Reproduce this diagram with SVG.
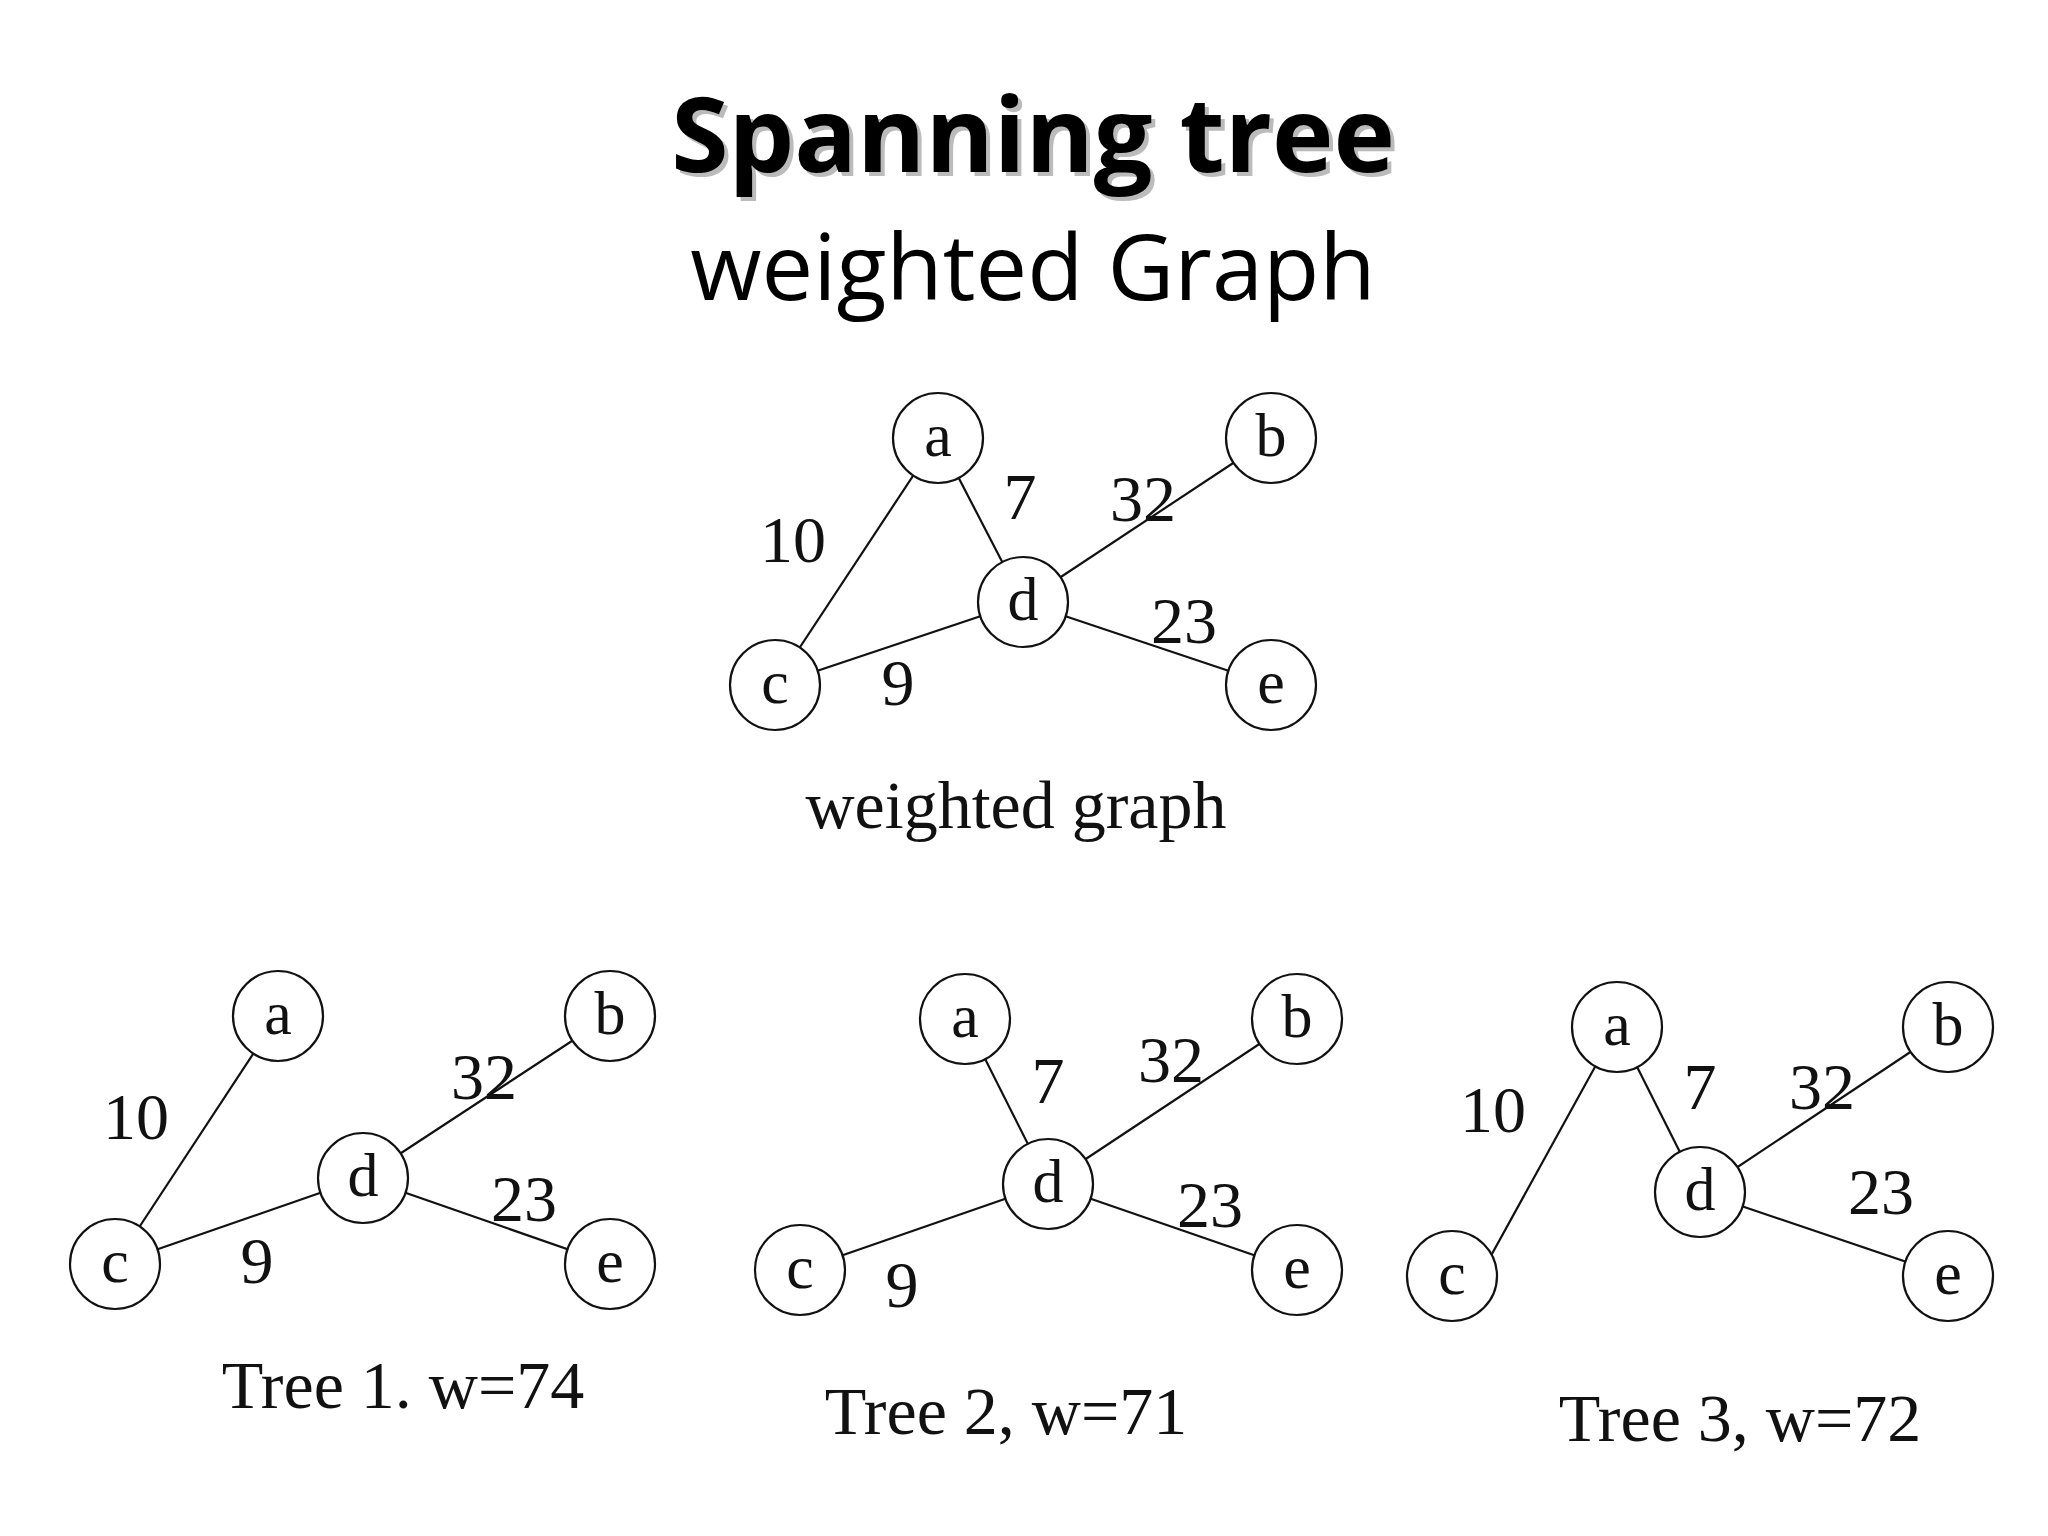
<svg xmlns="http://www.w3.org/2000/svg" width="2048" height="1536" viewBox="0 0 2048 1536">
<style>
.n{fill:#fff;stroke:#111;stroke-width:2.2}
.e{stroke:#111;stroke-width:2.2}
.t{font-family:"Liberation Serif",serif;font-size:66px;fill:#111;text-anchor:middle}
.w{font-family:"Liberation Serif",serif;font-size:68px;fill:#111;text-anchor:middle}
.nl{font-family:"Liberation Serif",serif;font-size:62px;fill:#111;text-anchor:middle}
</style>
<rect width="2048" height="1536" fill="#fff"/>
<text x="1037" y="176" font-family="Open Sans,sans-serif" font-weight="bold" font-size="104" fill="#bbb" text-anchor="middle">Spanning tree</text>
<text x="1033" y="172" font-family="Open Sans,sans-serif" font-weight="bold" font-size="104" fill="#000" text-anchor="middle">Spanning tree</text>
<text x="1033" y="300" font-family="Open Sans,sans-serif" font-size="92" fill="#000" text-anchor="middle">weighted Graph</text>
<g id="connectors">
<line class="e" x1="938" y1="438" x2="775" y2="685"/>
<line class="e" x1="938" y1="438" x2="1023" y2="602"/>
<line class="e" x1="1023" y1="602" x2="1271" y2="438"/>
<line class="e" x1="1023" y1="602" x2="1271" y2="685"/>
<line class="e" x1="775" y1="685" x2="1023" y2="602"/>
<line class="e" x1="278" y1="1016" x2="115" y2="1264"/>
<line class="e" x1="115" y1="1264" x2="363" y2="1178"/>
<line class="e" x1="363" y1="1178" x2="610" y2="1016"/>
<line class="e" x1="363" y1="1178" x2="610" y2="1264"/>
<line class="e" x1="965" y1="1019" x2="1048" y2="1184"/>
<line class="e" x1="1048" y1="1184" x2="1297" y2="1019"/>
<line class="e" x1="800" y1="1270" x2="1048" y2="1184"/>
<line class="e" x1="1048" y1="1184" x2="1297" y2="1270"/>
<line class="e" x1="1617" y1="1027" x2="1482" y2="1272" />
<line class="e" x1="1617" y1="1027" x2="1700" y2="1192"/>
<line class="e" x1="1700" y1="1192" x2="1948" y2="1027"/>
<line class="e" x1="1700" y1="1192" x2="1948" y2="1276"/>
</g>
<g id="weights">
<text class="t" x="793" y="562">10</text><text class="t" x="1020" y="519">7</text><text class="t" x="1143" y="521">32</text><text class="t" x="1184" y="643">23</text><text class="t" x="898" y="705">9</text>
<text class="t" x="136" y="1139">10</text><text class="t" x="484" y="1099">32</text><text class="t" x="524" y="1221">23</text><text class="t" x="257" y="1283">9</text>
<text class="t" x="1048" y="1103">7</text><text class="t" x="1171" y="1082">32</text><text class="t" x="1210" y="1227">23</text><text class="t" x="902" y="1307">9</text>
<text class="t" x="1493" y="1132">10</text><text class="t" x="1700" y="1109">7</text><text class="t" x="1822" y="1109">32</text><text class="t" x="1881" y="1214">23</text>
</g>
<g id="g0">
<g id="g0a"><circle class="n" cx="938" cy="438" r="45"/><text class="nl" x="938" y="456">a</text></g>
<g id="g0b"><circle class="n" cx="1271" cy="438" r="45"/><text class="nl" x="1271" y="456">b</text></g>
<g id="g0d"><circle class="n" cx="1023" cy="602" r="45"/><text class="nl" x="1023" y="620">d</text></g>
<g id="g0c"><circle class="n" cx="775" cy="685" r="45"/><text class="nl" x="775" y="703">c</text></g>
<g id="g0e"><circle class="n" cx="1271" cy="685" r="45"/><text class="nl" x="1271" y="703">e</text></g>
<text class="w" x="1016" y="828">weighted graph</text>
</g>
<g id="t1">
<g id="t1a"><circle class="n" cx="278" cy="1016" r="45"/><text class="nl" x="278" y="1034">a</text></g>
<g id="t1b"><circle class="n" cx="610" cy="1016" r="45"/><text class="nl" x="610" y="1034">b</text></g>
<g id="t1d"><circle class="n" cx="363" cy="1178" r="45"/><text class="nl" x="363" y="1196">d</text></g>
<g id="t1c"><circle class="n" cx="115" cy="1264" r="45"/><text class="nl" x="115" y="1282">c</text></g>
<g id="t1e"><circle class="n" cx="610" cy="1264" r="45"/><text class="nl" x="610" y="1282">e</text></g>
<text class="w" x="403" y="1408">Tree 1. w=74</text>
</g>
<g id="t2">
<g id="t2a"><circle class="n" cx="965" cy="1019" r="45"/><text class="nl" x="965" y="1037">a</text></g>
<g id="t2b"><circle class="n" cx="1297" cy="1019" r="45"/><text class="nl" x="1297" y="1037">b</text></g>
<g id="t2d"><circle class="n" cx="1048" cy="1184" r="45"/><text class="nl" x="1048" y="1202">d</text></g>
<g id="t2c"><circle class="n" cx="800" cy="1270" r="45"/><text class="nl" x="800" y="1288">c</text></g>
<g id="t2e"><circle class="n" cx="1297" cy="1270" r="45"/><text class="nl" x="1297" y="1288">e</text></g>
<text class="w" x="1006" y="1434">Tree 2, w=71</text>
</g>
<g id="t3">
<g id="t3a"><circle class="n" cx="1617" cy="1027" r="45"/><text class="nl" x="1617" y="1045">a</text></g>
<g id="t3b"><circle class="n" cx="1948" cy="1027" r="45"/><text class="nl" x="1948" y="1045">b</text></g>
<g id="t3d"><circle class="n" cx="1700" cy="1192" r="45"/><text class="nl" x="1700" y="1210">d</text></g>
<g id="t3c"><circle class="n" cx="1452" cy="1276" r="45"/><text class="nl" x="1452" y="1294">c</text></g>
<g id="t3e"><circle class="n" cx="1948" cy="1276" r="45"/><text class="nl" x="1948" y="1294">e</text></g>
<text class="w" x="1740" y="1441">Tree 3, w=72</text>
</g>
</svg>
